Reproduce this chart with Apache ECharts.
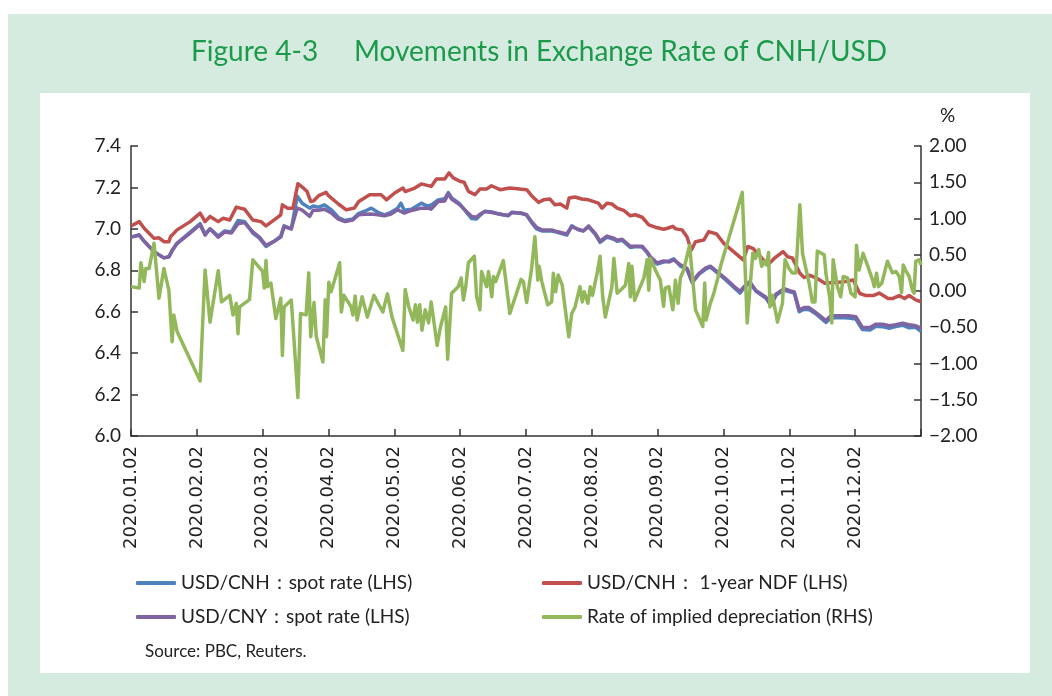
<!DOCTYPE html>
<html>
<head>
<meta charset="utf-8">
<script src="https://cdn.jsdelivr.net/npm/echarts@6/dist/echarts.min.js"></script>
<style>
  body { margin: 0; background: #fff; }
  .frame { position: absolute; left: 8px; top: 14px; width: 1044px; height: 682px; background: #d6ebe0; }
  .panel { position: absolute; left: 40px; top: 93px; width: 990px; height: 580px; background: #fff; }
  #main { position: absolute; left: 0; top: 0; width: 1052px; height: 696px; }
</style>
</head>
<body>
<div class="frame"></div>
<div class="panel"></div>
<div id="main"></div>
<script>
// x = trading day index, 20 per month tick
var monthLabels = ['2020.01.02', '2020.02.02', '2020.03.02', '2020.04.02', '2020.05.02', '2020.06.02',
  '2020.07.02', '2020.08.02', '2020.09.02', '2020.10.02', '2020.11.02', '2020.12.02'];

// USD/CNY spot
var cnySpot = [[0, 6.96], [2.5, 6.97], [4, 6.94], [7, 6.89], [10, 6.86], [11.5, 6.865], [12.5, 6.895], [14, 6.93],
  [18, 6.98], [21, 7.02], [22.5, 6.97], [24, 7.0], [26.5, 6.96], [28.5, 6.985], [30.5, 6.98], [32.5, 7.025],
  [34.5, 7.03], [37, 6.985], [39, 6.96], [41, 6.92], [43.5, 6.94], [45.5, 6.96], [46.5, 7.01], [48.7, 7.0],
  [50.5, 7.10], [52, 7.09], [54.3, 7.06], [55.3, 7.09], [57, 7.09], [58.8, 7.095], [61, 7.075], [63, 7.047],
  [65, 7.035], [67.4, 7.043], [69.2, 7.068], [71, 7.07], [73, 7.072], [75, 7.068], [77, 7.063], [79, 7.072],
  [81, 7.092], [83, 7.076], [85.2, 7.089], [88.2, 7.1], [90, 7.1], [91.2, 7.095], [93.3, 7.132], [95.3, 7.135],
  [96.4, 7.17], [97.4, 7.144], [99.9, 7.116], [101.9, 7.084], [103.5, 7.06], [104.9, 7.056], [106, 7.07],
  [107.5, 7.084], [109.6, 7.079], [112, 7.072], [114.6, 7.063], [115.7, 7.079], [118.7, 7.076], [120.2, 7.068],
  [121.7, 7.035], [123.2, 7.008], [124.8, 6.995], [127.8, 6.995], [129.3, 6.987], [132.4, 6.975], [133.9, 7.011],
  [135.9, 6.998], [137.4, 6.99], [139, 7.014], [141, 6.978], [142.5, 6.94], [143.3, 6.95], [144.6, 6.965],
  [146.7, 6.955], [147.7, 6.945], [149.2, 6.95], [151.7, 6.916], [153.3, 6.916], [155.3, 6.916], [156.8, 6.889],
  [157.8, 6.865], [159.8, 6.836], [161.8, 6.845], [163.5, 6.84], [164.9, 6.85], [166.9, 6.826], [168.9, 6.81],
  [170.5, 6.743], [172.5, 6.784], [174.5, 6.81], [176, 6.82], [177.6, 6.8], [180.6, 6.76], [183, 6.725],
  [185, 6.698], [186.2, 6.72], [188, 6.745], [189.8, 6.703], [192.9, 6.67], [194.4, 6.638], [196, 6.686],
  [198.4, 6.711], [200.4, 6.70], [201.5, 6.695], [203, 6.609], [204.5, 6.62], [206, 6.62], [208, 6.597],
  [211.1, 6.557], [212.6, 6.58], [215.7, 6.581], [218, 6.58], [220.2, 6.576], [222.2, 6.524], [224.5, 6.524],
  [226.3, 6.54], [228.3, 6.54], [230.3, 6.532], [232.3, 6.537], [234.4, 6.544], [236.4, 6.537], [238.4, 6.532],
  [240, 6.521]];

// USD/CNH spot
var cnhSpot = [[0, 6.96], [2.5, 6.97], [4, 6.94], [7, 6.89], [10, 6.86], [11.5, 6.865], [12.5, 6.895], [14, 6.93],
  [18, 6.985], [21, 7.025], [22.5, 6.975], [24, 7.0], [26.5, 6.965], [28.5, 6.99], [30.5, 6.985], [32.5, 7.04],
  [34.5, 7.035], [37, 6.98], [39, 6.955], [41, 6.915], [43.5, 6.94], [45.5, 6.965], [46.5, 7.015], [48.7, 7.0],
  [50.5, 7.157], [52, 7.124], [54.3, 7.10], [55.3, 7.11], [57, 7.105], [58.8, 7.116], [61, 7.09], [63, 7.055],
  [65, 7.04], [67.4, 7.048], [69.2, 7.075], [71, 7.085], [73, 7.10], [75, 7.08], [77, 7.068], [79, 7.08],
  [81, 7.10], [82, 7.124], [83, 7.09], [85.2, 7.095], [88.2, 7.124], [90, 7.11], [91.2, 7.115], [93.3, 7.14],
  [95.3, 7.145], [96.4, 7.175], [97.4, 7.15], [99.9, 7.12], [101.9, 7.08], [103.5, 7.05], [104.9, 7.048],
  [106, 7.065], [107.5, 7.085], [109.6, 7.082], [112, 7.07], [114.6, 7.065], [115.7, 7.08], [118.7, 7.074],
  [120.2, 7.066], [121.7, 7.03], [123.2, 7.0], [124.8, 6.99], [127.8, 6.99], [129.3, 6.985], [132.4, 6.97],
  [133.9, 7.015], [135.9, 6.995], [137.4, 6.99], [139, 7.01], [141, 6.975], [142.5, 6.935], [143.3, 6.945],
  [144.6, 6.96], [146.7, 6.95], [147.7, 6.94], [149.2, 6.945], [151.7, 6.91], [153.3, 6.915], [155.3, 6.912],
  [156.8, 6.885], [157.8, 6.86], [159.8, 6.83], [161.8, 6.84], [163.5, 6.845], [164.9, 6.855], [166.9, 6.82],
  [168.9, 6.805], [170.5, 6.74], [172.5, 6.78], [174.5, 6.805], [176, 6.815], [177.6, 6.795], [180.6, 6.755],
  [183, 6.72], [185, 6.69], [186.2, 6.715], [188, 6.74], [189.8, 6.70], [192.9, 6.665], [194.4, 6.63],
  [196, 6.68], [198.4, 6.705], [200.4, 6.695], [201.5, 6.69], [203, 6.60], [204.5, 6.612], [206, 6.61],
  [208, 6.59], [211.1, 6.548], [212.6, 6.57], [215.7, 6.572], [218, 6.57], [220.2, 6.565], [222.2, 6.514],
  [224.5, 6.512], [226.3, 6.53], [228.3, 6.528], [230.3, 6.52], [232.3, 6.528], [234.4, 6.535], [236.4, 6.522],
  [238.4, 6.525], [240, 6.505]];

// USD/CNH 1-year NDF
var ndf = [[0, 7.014], [2.5, 7.035], [4, 7.003], [7, 6.954], [8.5, 6.957], [10, 6.938], [11.5, 6.938], [12, 6.962],
  [14, 6.995], [18, 7.035], [21, 7.076], [22.5, 7.035], [24, 7.06], [26.5, 7.035], [28, 7.051], [30, 7.043],
  [32, 7.105], [34.5, 7.095], [37, 7.043], [39.5, 7.035], [41, 7.014], [43.5, 7.043], [45.5, 7.068], [46, 7.116],
  [47.5, 7.10], [49.2, 7.10], [50.7, 7.218], [52.5, 7.195], [53.5, 7.18], [54.6, 7.132], [55.5, 7.135], [57, 7.16],
  [59.3, 7.176], [60, 7.16], [63, 7.12], [65.4, 7.092], [67.8, 7.10], [69.2, 7.132], [72.5, 7.165], [76, 7.165],
  [77.6, 7.14], [80.1, 7.173], [82.6, 7.197], [83.3, 7.18], [86.2, 7.197], [88.2, 7.217], [91.2, 7.205],
  [92.8, 7.241], [95.3, 7.241], [96.6, 7.27], [97.9, 7.246], [99.9, 7.23], [101.2, 7.225], [102.5, 7.181],
  [104.5, 7.165], [106, 7.192], [108, 7.192], [109.5, 7.208], [112.1, 7.189], [115.1, 7.197], [120.2, 7.189],
  [121.7, 7.16], [123.8, 7.128], [125.3, 7.14], [127.3, 7.144], [128.8, 7.116], [130.4, 7.12], [132.4, 7.10],
  [133.1, 7.149], [134.9, 7.154], [136.9, 7.144], [139, 7.14], [142, 7.124], [143.1, 7.10], [144.6, 7.124],
  [146.1, 7.12], [147.7, 7.10], [149.7, 7.089], [151.7, 7.063], [153.2, 7.068], [155.3, 7.056], [157.3, 7.019],
  [159.3, 7.008], [161.8, 6.998], [163, 7.003], [164.6, 7.012], [165.5, 7.0], [167.4, 6.995], [168.9, 6.962],
  [170.2, 6.897], [171.5, 6.938], [174, 6.946], [175.5, 6.987], [177.9, 6.975], [180.1, 6.93], [186, 6.85],
  [187.4, 6.915], [189, 6.905], [190.7, 6.875], [193.5, 6.826], [195.4, 6.857], [198.1, 6.89], [199.5, 6.865],
  [200.9, 6.86], [203.2, 6.786], [204.5, 6.765], [206, 6.776], [208, 6.765], [210.8, 6.737], [212.5, 6.74],
  [216.2, 6.743], [219.4, 6.753], [221.4, 6.688], [223.3, 6.678], [225.5, 6.678], [227.3, 6.69], [230, 6.664],
  [231.5, 6.664], [233.4, 6.678], [235, 6.664], [236.4, 6.678], [238.4, 6.657], [240, 6.648]];

// rate of implied depreciation, %
var depreciation = [[0, 0.06], [2.5, 0.04], [3, 0.39], [4, 0.13], [4.5, 0.31], [5.5, 0.31], [7, 0.66], [8.5, -0.10],
  [10, 0.31], [11.5, 0.01], [12.5, -0.70], [13, -0.33], [14, -0.56], [21, -1.24], [22.5, 0.29], [24, -0.43],
  [26.5, 0.28], [27.5, -0.15], [30, -0.06], [31, -0.33], [32, -0.17], [32.5, -0.59], [33, -0.22], [36, -0.12],
  [37, 0.43], [40, 0.27], [40.5, 0.04], [41, 0.42], [41.5, 0.06], [42.5, 0.11], [44, -0.38], [45.5, -0.10],
  [46, -0.89], [46.5, -0.22], [48.7, -0.125], [50.7, -1.47], [51.5, -0.31], [53.2, -0.33], [54, 0.25], [54.6, -0.63],
  [55.6, -0.16], [56.3, -0.63], [58.3, -0.98], [59, -0.12], [59.4, -0.63], [60.1, 0.12], [60.8, -0.01], [63.4, 0.39],
  [63.9, -0.29], [64.7, -0.06], [66.9, -0.22], [67.4, -0.33], [68.1, -0.07], [68.7, -0.40], [70.2, -0.08],
  [71.8, -0.36], [73.8, -0.06], [76.5, -0.29], [77.9, -0.04], [79.3, -0.36], [82.6, -0.82], [83.3, 0.02],
  [84.4, -0.22], [85.7, -0.40], [86.4, -0.19], [87, -0.43], [87.7, -0.19], [88.4, -0.54], [89.4, -0.26],
  [90.4, -0.44], [91.2, -0.15], [93, -0.75], [94, -0.50], [95.6, -0.22], [96.2, -0.94], [97.4, -0.03], [99.4, 0.06],
  [100.3, 0.18], [101, -0.125], [101.7, 0.06], [102.5, 0.39], [104.3, 0.48], [105, -0.08], [106, -0.26],
  [106.5, 0.27], [108, 0.06], [108.6, 0.27], [109.6, -0.08], [110.1, 0.20], [110.8, 0.13], [113.1, 0.42],
  [115.1, -0.31], [118.5, 0.16], [119.2, 0.13], [120.2, -0.16], [121.7, 0.31], [122.7, 0.75], [123.6, 0.15],
  [124, 0.34], [124.8, 0.13], [126.6, -0.19], [127.8, -0.15], [128.3, 0.245], [129, -0.01], [129.8, 0.22],
  [131, 0.08], [133, -0.63], [133.9, -0.31], [134.9, -0.22], [136.4, 0.06], [137.1, -0.15], [137.7, -0.01],
  [138.8, -0.17], [139.5, 0.06], [140.2, -0.06], [141.6, 0.245], [142.5, 0.48], [143.3, -0.08], [144.1, -0.36],
  [146.1, 0.06], [146.7, 0.45], [147.7, -0.03], [148.7, 0.01], [150.2, 0.08], [151.2, 0.38], [151.7, -0.08],
  [152.2, 0.34], [153, -0.13], [155.8, 0.18], [156.8, 0.43], [157.3, 0.01], [157.8, 0.45], [159.3, 0.29],
  [160.8, 0.15], [161.8, -0.21], [162.3, 0.04], [163.4, 0.06], [164.6, -0.26], [165.4, 0.15], [166.2, -0.17],
  [166.9, 0.18], [167.9, 0.29], [169.7, 0.63], [171.5, -0.26], [173.7, -0.49], [174.3, 0.11], [174.7, -0.40],
  [176, -0.17], [177, -0.04], [178.4, 0.20], [179.1, 0.34], [185.7, 1.36], [187.2, -0.44], [188.9, 0.52],
  [189.7, 0.45], [190.7, 0.57], [191.6, 0.34], [192.4, 0.41], [193, 0.36], [193.7, 0.53], [194.1, -0.22],
  [194.9, -0.06], [196.4, -0.43], [197.9, -0.17], [198.7, 0.43], [199.9, 0.31], [200.9, 0.25], [202, 0.25],
  [203.2, 1.19], [204, 0.52], [206, 0.11], [207, -0.15], [207.8, -0.15], [208.5, 0.55], [210.6, 0.50],
  [211.1, 0.25], [212.3, -0.10], [212.9, -0.44], [213.3, 0.43], [214.6, 0.06], [215.6, -0.08], [216.4, 0.20],
  [217.7, 0.18], [218.7, -0.03], [220, -0.08], [220.4, 0.63], [221.2, 0.29], [222.4, 0.52], [223.7, 0.36],
  [225.3, 0.15], [225.8, 0.06], [226.5, 0.245], [227.1, 0.06], [228.1, 0.11], [229.8, 0.41], [231.3, 0.25],
  [232.4, 0.27], [233.4, 0.20], [234.1, -0.02], [234.6, 0.36], [235.5, 0.27], [236.4, 0.20], [237.4, 0.01],
  [237.9, -0.03], [238.4, 0.41], [239.4, 0.43], [240, 0.36]];

var seriesNames = ['USD/CNH\uff1aspot rate (LHS)', 'USD/CNY\uff1aspot rate (LHS)',
  'USD/CNH\uff1a 1-year NDF (LHS)', 'Rate of implied depreciation (RHS)'];

var myChart = echarts.init(document.getElementById('main'), null, {renderer: 'canvas'});

var axisColor = '#333';
var labelFont = 'Lato, "Noto Sans", sans-serif';

function lineSeries(name, data, color, yIndex) {
  return {
    name: name,
    type: 'line',
    data: data,
    yAxisIndex: yIndex,
    showSymbol: false,
    symbol: 'none',
    animation: false,
    lineStyle: {width: 3.5, color: color, join: 'round'},
    itemStyle: {color: color}
  };
}

var option = {
  backgroundColor: 'transparent',
  title: {
    text: 'Figure 4-3     Movements in Exchange Rate of CNH/USD',
    left: 186,
    top: 33,
    textStyle: {fontFamily: labelFont, fontSize: 28, fontWeight: 'normal', color: '#1b9a4b'}
  },
  legend: [
    {
      data: [seriesNames[0], seriesNames[1]],
      orient: 'vertical',
      left: 131,
      top: 567,
      itemWidth: 40,
      itemHeight: 4,
      itemGap: 12,
      icon: 'roundRect',
      textStyle: {fontFamily: labelFont, fontSize: 19, color: '#222', lineHeight: 22}
    },
    {
      data: [seriesNames[2], seriesNames[3]],
      orient: 'vertical',
      left: 537,
      top: 567,
      itemWidth: 40,
      itemHeight: 4,
      itemGap: 12,
      icon: 'roundRect',
      textStyle: {fontFamily: labelFont, fontSize: 19, color: '#222', lineHeight: 22}
    }
  ],
  grid: {left: 131, right: 131, top: 146, height: 290, containLabel: false},
  xAxis: {
    type: 'value',
    min: 0,
    max: 240,
    interval: 20,
    axisLine: {onZero: false, lineStyle: {color: axisColor, width: 1.5}},
    axisTick: {inside: true, length: 7, lineStyle: {color: axisColor, width: 1.5}},
    splitLine: {show: false},
    axisLabel: {
      rotate: 90,
      margin: 10,
      fontFamily: '"DejaVu Sans", sans-serif',
      fontSize: 18,
      color: '#222',
      formatter: function (v) {
        return monthLabels[Math.round(v / 20)] || '';
      }
    }
  },
  yAxis: [
    {
      type: 'value',
      min: 6.0,
      max: 7.4,
      interval: 0.2,
      axisLine: {show: true, lineStyle: {color: axisColor, width: 1.5}},
      axisTick: {show: true, inside: true, length: 7, lineStyle: {color: axisColor, width: 1.5}},
      splitLine: {show: false},
      axisLabel: {
        margin: 10, fontFamily: labelFont, fontSize: 19, color: '#222',
        formatter: function (v) { return v.toFixed(1); }
      }
    },
    {
      type: 'value',
      min: -2,
      max: 2,
      interval: 0.5,
      position: 'right',
      axisLine: {show: true, lineStyle: {color: axisColor, width: 1.5}},
      axisTick: {show: true, inside: true, length: 7, lineStyle: {color: axisColor, width: 1.5}},
      splitLine: {show: false},
      axisLabel: {
        margin: 8, fontFamily: labelFont, fontSize: 19, color: '#222',
        formatter: function (v) {
          var s = Math.abs(v).toFixed(2);
          return v < 0 ? '\u2212' + s : s;
        }
      }
    }
  ],
  graphic: [
    {type: 'text', left: 940, top: 106, style: {text: '%', font: '19px ' + labelFont, fill: '#222'}},
    {type: 'text', left: 145, top: 643, style: {text: 'Source: PBC, Reuters.', font: '17px ' + labelFont, fill: '#222'}}
  ],
  series: [
    lineSeries(seriesNames[0], cnhSpot, '#4f81bd', 0),
    lineSeries(seriesNames[1], cnySpot, '#8064a2', 0),
    lineSeries(seriesNames[2], ndf, '#c0504d', 0),
    lineSeries(seriesNames[3], depreciation, '#93b85c', 1)
  ]
};

myChart.setOption(option);
</script>
</body>
</html>
